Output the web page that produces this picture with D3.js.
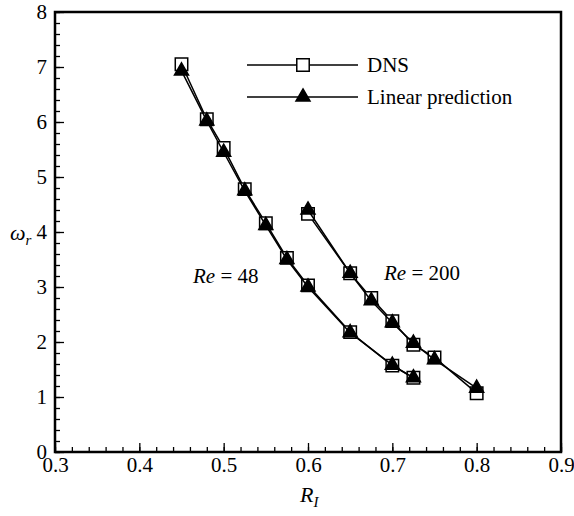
<!DOCTYPE html>
<html>
<head>
<meta charset="utf-8">
<script src="https://cdn.jsdelivr.net/npm/d3@7"></script>
<style>
body { margin: 0; background: #fff; }
</style>
</head>
<body>
<div id="chart"></div>
<script>
// data
var re48X   = [0.45, 0.48, 0.5, 0.525, 0.55, 0.575, 0.6, 0.65, 0.7, 0.725];
var re48Dns = [7.05, 6.05, 5.53, 4.78, 4.16, 3.53, 3.03, 2.18, 1.57, 1.35];
var re48Lin = [6.93, 6.02, 5.45, 4.75, 4.12, 3.50, 3.00, 2.17, 1.58, 1.35];

var re200X   = [0.6, 0.65, 0.675, 0.7, 0.725, 0.75, 0.8];
var re200Dns = [4.33, 3.25, 2.80, 2.38, 1.95, 1.72, 1.07];
var re200Lin = [4.40, 3.25, 2.75, 2.35, 1.98, 1.68, 1.16];

var xTickLabels = [0.3, 0.4, 0.5, 0.6, 0.7, 0.8, 0.9];
var yTickLabels = [0, 1, 2, 3, 4, 5, 6, 7, 8];
var legendNames = ["DNS", "Linear prediction"];

var serif = "Liberation Serif";
var width = 574, height = 516;
var plotL = 55, plotR = 561, plotT = 12, plotB = 452;

var svg = d3.select("#chart").append("svg")
    .attr("width", width)
    .attr("height", height);

var x = d3.scaleLinear().domain([0.3, 0.9]).range([plotL, plotR]);
var y = d3.scaleLinear().domain([0, 8]).range([plotB, plotT]);

// minor ticks
var xMinor = d3.range(0.3, 0.9001, 0.02);
var yMinor = d3.range(0, 8.001, 0.2);

svg.append("g")
    .attr("transform", "translate(0," + plotB + ")")
    .call(d3.axisBottom(x).tickValues(xMinor).tickSize(-5).tickFormat(""))
    .call(function(g) { g.select(".domain").remove(); });

svg.append("g")
    .attr("transform", "translate(" + plotL + ",0)")
    .call(d3.axisLeft(y).tickValues(yMinor).tickSize(-5).tickFormat(""))
    .call(function(g) { g.select(".domain").remove(); });

// major ticks
var xAxis = svg.append("g")
    .attr("transform", "translate(0," + plotB + ")")
    .call(d3.axisBottom(x).tickValues(xTickLabels).tickSize(-9).tickPadding(5)
        .tickFormat(d3.format(".1f")));
xAxis.select(".domain").remove();
xAxis.selectAll("text").attr("dy", "0.71em");

var yAxis = svg.append("g")
    .attr("transform", "translate(" + plotL + ",0)")
    .call(d3.axisLeft(y).tickValues(yTickLabels).tickSize(-9).tickPadding(8)
        .tickFormat(d3.format("d")));
yAxis.select(".domain").remove();

[xAxis, yAxis].forEach(function(a) {
    a.attr("font-size", 21);
});

svg.selectAll(".tick line").attr("stroke", "#000").attr("stroke-width", 1.3);

// frame
svg.append("rect")
    .attr("x", plotL).attr("y", plotT)
    .attr("width", plotR - plotL).attr("height", plotB - plotT)
    .attr("fill", "none").attr("stroke", "#000").attr("stroke-width", 2.5);

var line = d3.line()
    .x(function(d) { return x(d[0]); })
    .y(function(d) { return y(d[1]); });

function pairs(xs, ys) {
    return xs.map(function(v, i) { return [v, ys[i]]; });
}

var squares = [pairs(re48X, re48Dns), pairs(re200X, re200Dns)];
var triangles = [pairs(re48X, re48Lin), pairs(re200X, re200Lin)];

var sq = d3.symbol().type(d3.symbolSquare).size(155);
var tri = d3.symbol().type(d3.symbolTriangle).size(85);

function drawSeries(data, sym, fill) {
    svg.append("path")
        .datum(data)
        .attr("d", line)
        .attr("fill", "none")
        .attr("stroke", "#000")
        .attr("stroke-width", 1.5);
    svg.append("g").selectAll("path")
        .data(data)
        .enter().append("path")
        .attr("transform", function(d) { return "translate(" + x(d[0]) + "," + y(d[1]) + ")"; })
        .attr("d", sym)
        .attr("fill", fill)
        .attr("stroke", "#000")
        .attr("stroke-width", 1.5);
}

squares.forEach(function(s) { drawSeries(s, sq, "#fff"); });
triangles.forEach(function(s) { drawSeries(s, tri, "#000"); });

// legend
var legend = svg.append("g");
[sq, tri].forEach(function(sym, i) {
    var ly = 65 + i * 32;
    legend.append("line")
        .attr("x1", 247).attr("x2", 358)
        .attr("y1", ly).attr("y2", ly)
        .attr("stroke", "#000").attr("stroke-width", 1.5);
    legend.append("path")
        .attr("transform", "translate(303," + ly + ")")
        .attr("d", sym)
        .attr("fill", i == 0 ? "#fff" : "#000")
        .attr("stroke", "#000").attr("stroke-width", 1.5);
    legend.append("text")
        .attr("x", 367).attr("y", ly + 7)
        .attr("font-size", 21)
        .text(legendNames[i]);
});

// annotations
function reLabel(px, py, val) {
    var t = svg.append("text").attr("x", px).attr("y", py).attr("font-size", 21);
    t.append("tspan").attr("font-style", "italic").text("Re");
    t.append("tspan").text(" = " + val);
}
reLabel(193, 283, "48");
reLabel(384, 280, "200");

// axis titles
var xt = svg.append("text")
    .attr("x", 300).attr("y", 502)
    .attr("font-size", 22);
xt.append("tspan").attr("font-style", "italic").text("R");
xt.append("tspan").attr("font-style", "italic").attr("font-size", 15).attr("dy", 5).text("I");

var yt = svg.append("text")
    .attr("x", 10).attr("y", 240)
    .attr("font-size", 22);
yt.append("tspan").attr("font-style", "italic").text("\u03c9");
yt.append("tspan").attr("font-style", "italic").attr("font-size", 15).attr("dy", 5).text("r");

svg.selectAll("text").style("font-family", serif).attr("fill", "#000");
</script>
</body>
</html>
